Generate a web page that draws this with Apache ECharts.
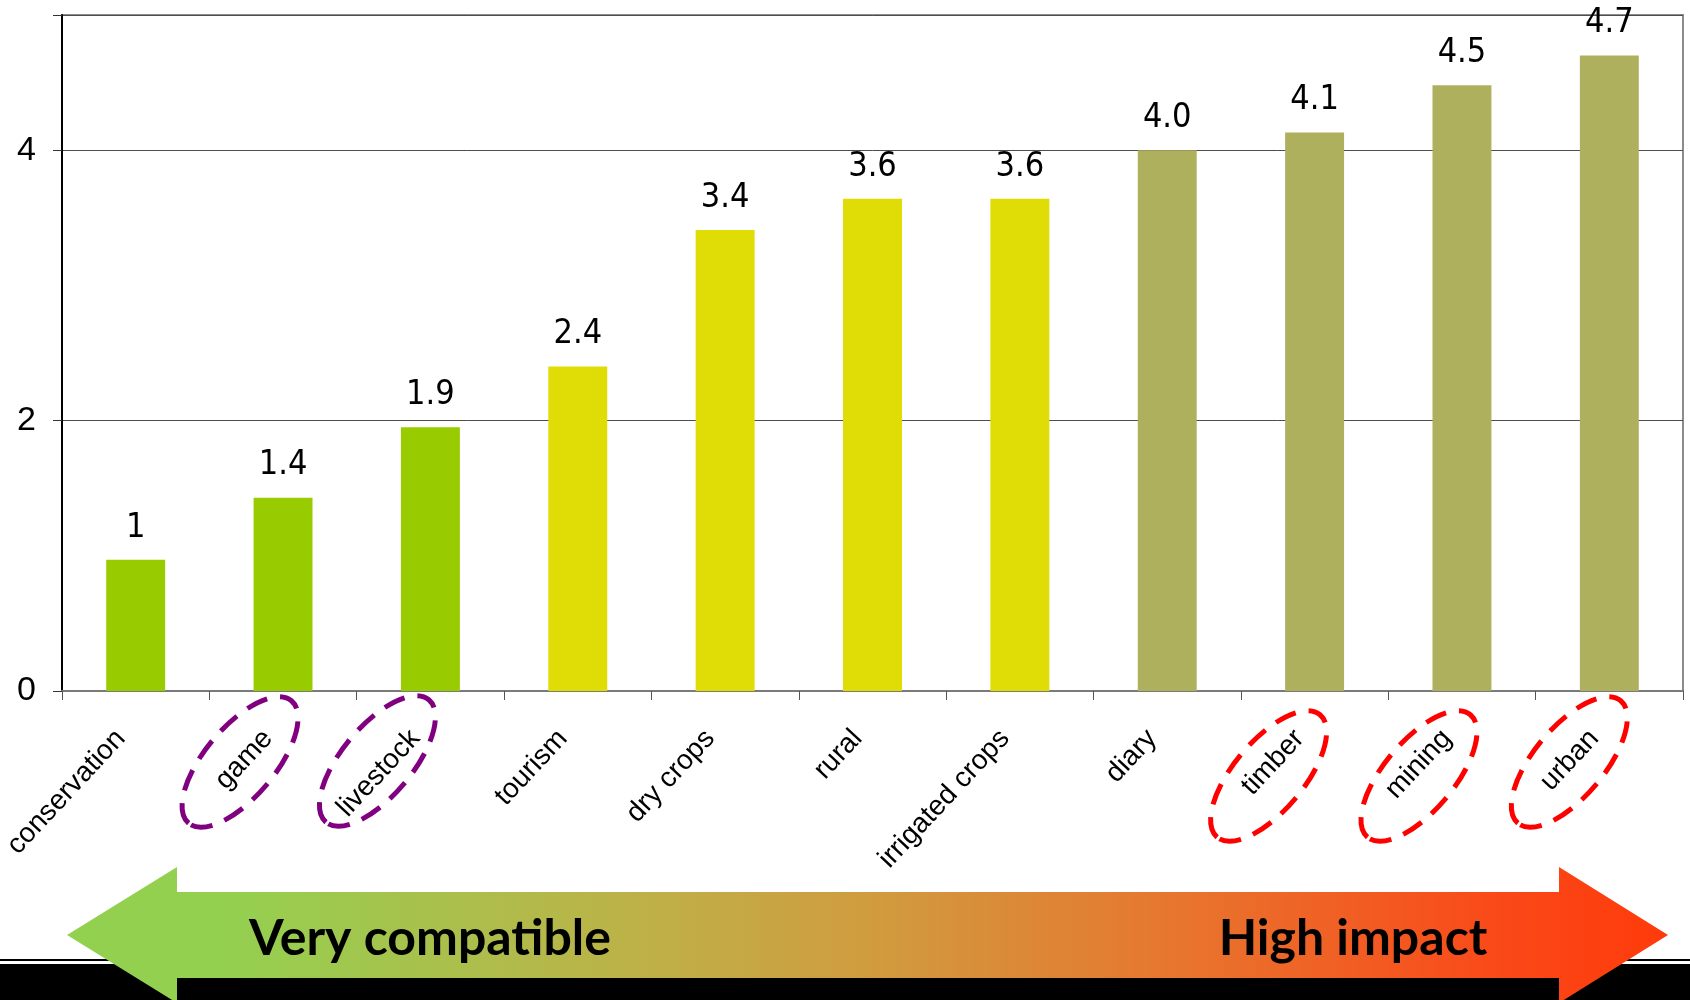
<!DOCTYPE html>
<html>
<head>
<meta charset="utf-8">
<script src="https://cdn.jsdelivr.net/npm/echarts@6/dist/echarts.min.js"></script>
<style>
html,body{margin:0;padding:0;background:#fff;}
#main{width:1690px;height:1000px;}
</style>
</head>
<body>
<div id="main"></div>
<script>
// ---- data ----
const categories = ['conservation','game','livestock','tourism','dry crops','rural','irrigated crops','diary','timber','mining','urban'];
const values = [0.97, 1.43, 1.95, 2.40, 3.41, 3.64, 3.64, 4.00, 4.13, 4.48, 4.70];
const valueLabels = ['1','1.4','1.9','2.4','3.4','3.6','3.6','4.0','4.1','4.5','4.7'];
const impactGroup = [0,0,0,1,1,1,1,2,2,2,2];
const yTicks = [0, 2, 4];
const purpleCircled = ['game','livestock'];
const redCircled = ['timber','mining','urban'];
const leftCaption = 'Very compatible';
const rightCaption = 'High impact';

// ---- styles ----
const groupColors = ['#99CC00', '#E0DC06', '#AFB05E'];

const chart = echarts.init(document.getElementById('main'), null, {renderer:'canvas'});

chart.setOption({
  animation: false,
  backgroundColor: '#ffffff',
  grid: {
    left: 62, right: 7, top: 15, bottom: 309,
    containLabel: false, outerBoundsMode: 'none',
    show: true, borderColor: '#8c8c8c', borderWidth: 2, backgroundColor: 'transparent'
  },
  xAxis: {
    type: 'category',
    data: categories,
    axisLine: {lineStyle: {color: '#7a7a7a', width: 2}},
    axisTick: {show: true, length: 9, alignWithLabel: false, lineStyle: {color: '#555', width: 1}},
    axisLabel: {
      interval: 0, rotate: 47, margin: 27, padding: [0, 22, 0, 0],
      fontSize: 28, fontFamily: '"Liberation Sans", Arial, sans-serif',
      color: '#000'
    },
    splitLine: {show: false}
  },
  yAxis: {
    type: 'value', min: 0, max: 5, interval: 2,
    axisLine: {show: true, lineStyle: {color: '#000', width: 2}},
    axisTick: {show: true, length: 9, lineStyle: {color: '#333', width: 1}},
    axisLabel: {
      fontSize: 34, fontFamily: '"Liberation Sans", Arial, sans-serif', color: '#000', margin: 26,
      formatter: function (v) { return yTicks.indexOf(v) >= 0 ? String(v) : ''; }
    },
    splitLine: {show: true, lineStyle: {color: '#4d4d4d', width: 1}}
  },
  series: [{
    type: 'bar',
    barCategoryGap: '60%',
    data: values.map(function (v, i) {
      return {value: v, itemStyle: {color: groupColors[impactGroup[i]]}};
    }),
    label: {
      show: true, position: 'top', distance: 15,
      fontSize: 34, fontFamily: '"DejaVu Sans Condensed", "DejaVu Sans", sans-serif', color: '#000',
      formatter: function (p) { return valueLabels[p.dataIndex]; }
    }
  }]
});

// ---- hand-drawn style annotations, placed relative to each category on the axis ----
const ellipseNudge = {
  game: [-43, 71], livestock: [-53, 70],
  timber: [-46, 85], mining: [-43, 85], urban: [-40, 71]
};
const axisY = chart.convertToPixel({yAxisIndex: 0}, 0);
const ellipses = [];
function addEllipse(cat, color) {
  const cx = chart.convertToPixel({xAxisIndex: 0}, cat);
  const n = ellipseNudge[cat];
  ellipses.push({
    type: 'ellipse', x: cx + n[0], y: axisY + n[1], rotation: 50 * Math.PI / 180, z: 100,
    shape: {cx: 0, cy: 0, rx: 80, ry: 35},
    style: {fill: 'none', stroke: color, lineWidth: 5, lineDash: [22, 13]}
  });
}
purpleCircled.forEach(function (c) { addEllipse(c, '#800080'); });
redCircled.forEach(function (c) { addEllipse(c, '#FF0000'); });

const arrowPts = [[67,935],[177,867],[177,892],[1559,892],[1559,867],[1668,935],[1559,1003],[1559,978],[177,978],[177,1003]];

chart.setOption({
  graphic: ellipses.concat([
    {type: 'rect', z: 90, shape: {x: 0, y: 959, width: 1690, height: 2}, style: {fill: '#000'}},
    {type: 'rect', z: 90, shape: {x: 0, y: 964, width: 1690, height: 36}, style: {fill: '#000'}},
    {type: 'polygon', z: 95, shape: {points: arrowPts},
      style: {fill: {type: 'linear', x: 0, y: 0, x2: 1, y2: 0, colorStops: [
        {offset: 0, color: '#92D050'},
        {offset: 0.1, color: '#94D050'},
        {offset: 0.35, color: '#BCB248'},
        {offset: 0.5, color: '#D09C3E'},
        {offset: 0.7, color: '#E8742E'},
        {offset: 0.9, color: '#FA4818'},
        {offset: 1, color: '#FF3A0A'}
      ]}}},
    {type: 'text', z: 96, x: 430, y: 939,
      style: {text: leftCaption, font: 'bold 50px Lato, "Open Sans", sans-serif', fill: '#000', textAlign: 'center', textVerticalAlign: 'middle'}},
    {type: 'text', z: 96, x: 1353, y: 939,
      style: {text: rightCaption, font: 'bold 50px Lato, "Open Sans", sans-serif', fill: '#000', textAlign: 'center', textVerticalAlign: 'middle'}}
  ])
});
</script>
</body>
</html>
